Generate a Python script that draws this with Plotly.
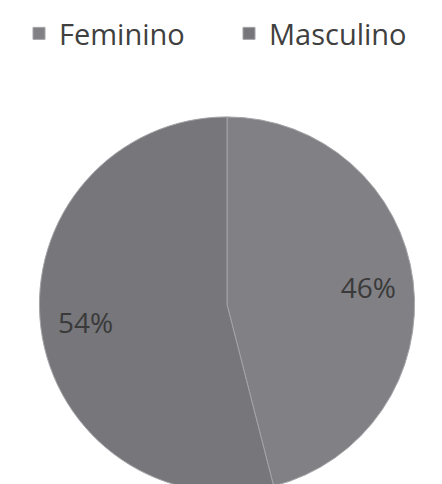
import plotly.graph_objects as go

labels = ["Feminino", "Masculino"]
values = [46, 54]
slice_colors = ["#808085", "#76767b"]

pie_domain = dict(x=[5 / 442, 433 / 442], y=[0, 0.775])

fig = go.Figure()
# the pie itself: fills, divider and legend
fig.add_trace(go.Pie(
    labels=labels,
    values=values,
    sort=False,
    direction="clockwise",
    rotation=0,
    marker=dict(colors=slice_colors, line=dict(color="#a4a4a8", width=1)),
    textinfo="none",
    domain=pie_domain,
    hoverinfo="label+percent",
))
# invisible ring on top, only to carry the percentage labels further out
fig.add_trace(go.Pie(
    labels=labels,
    values=values,
    sort=False,
    direction="clockwise",
    rotation=0,
    hole=0.52,
    marker=dict(colors=["rgba(0,0,0,0)"] * 2, line=dict(width=0)),
    textinfo="percent",
    textposition="inside",
    insidetextorientation="horizontal",
    textfont=dict(family="Open Sans", size=28, color="#3a3a3a"),
    domain=pie_domain,
    hoverinfo="skip",
    showlegend=False,
))

fig.update_layout(
    width=442,
    height=484,
    margin=dict(l=0, r=0, t=0, b=0),
    paper_bgcolor="white",
    plot_bgcolor="white",
    font=dict(family="Open Sans", color="#404040"),
    showlegend=True,
    legend=dict(
        orientation="h",
        x=0.5, xanchor="center",
        y=1.0, yanchor="top",
        font=dict(size=29, color="#404040"),
        entrywidth=165,
        traceorder="normal",
    ),
)

fig.write_html("out.html")
